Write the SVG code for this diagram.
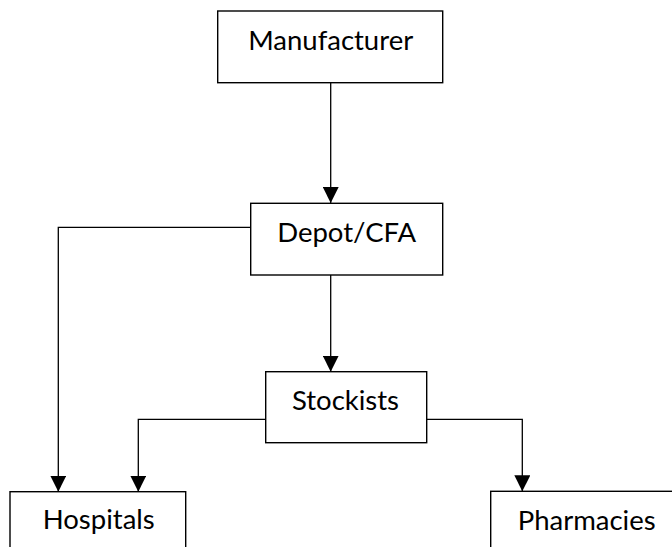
<svg xmlns="http://www.w3.org/2000/svg" width="672" height="547" viewBox="0 0 672 547">
<style>
.box{fill:#fff;stroke:#000;stroke-width:1.4}
.lbl{font-family:Lato,"Liberation Sans",sans-serif;font-size:27.5px;fill:#000;text-anchor:middle}
.conn{fill:none;stroke:#000;stroke-width:1.3}
</style>
<defs>
<marker id="ah" markerUnits="userSpaceOnUse" markerWidth="16" markerHeight="16" viewBox="0 0 15 15" refX="15" refY="7.5" orient="auto">
<path d="M0,0 L15,7.5 L0,15 Z" fill="#000"/>
</marker>
</defs>
<rect width="672" height="547" fill="#fff"/>
<g id="connectors">
<path class="conn" d="M330.7,82.7 V203" marker-end="url(#ah)"/>
<path class="conn" d="M250.7,227.3 H58.3 V491.7" marker-end="url(#ah)"/>
<path class="conn" d="M330.7,275 V371.7" marker-end="url(#ah)"/>
<path class="conn" d="M265.7,419.3 H138.3 V491.7" marker-end="url(#ah)"/>
<path class="conn" d="M426.7,419.3 H522.3 V491.3" marker-end="url(#ah)"/>
</g>
<g id="manufacturer">
<rect class="box" x="217.7" y="11" width="225" height="71.7"/>
<text class="lbl" x="330.7" y="50">Manufacturer</text>
</g>
<g id="depot">
<rect class="box" x="250.7" y="203.3" width="192" height="71.7"/>
<text class="lbl" x="346.7" y="241.7">Depot/CFA</text>
</g>
<g id="stockists">
<rect class="box" x="265.7" y="371.7" width="161" height="71"/>
<text class="lbl" x="345.5" y="410">Stockists</text>
</g>
<g id="hospitals">
<rect class="box" x="10" y="491.7" width="175.7" height="80"/>
<text class="lbl" x="98.7" y="529">Hospitals</text>
</g>
<g id="pharmacies">
<rect class="box" x="490.7" y="491.3" width="200" height="80"/>
<text class="lbl" x="586.7" y="530">Pharmacies</text>
</g>
</svg>
